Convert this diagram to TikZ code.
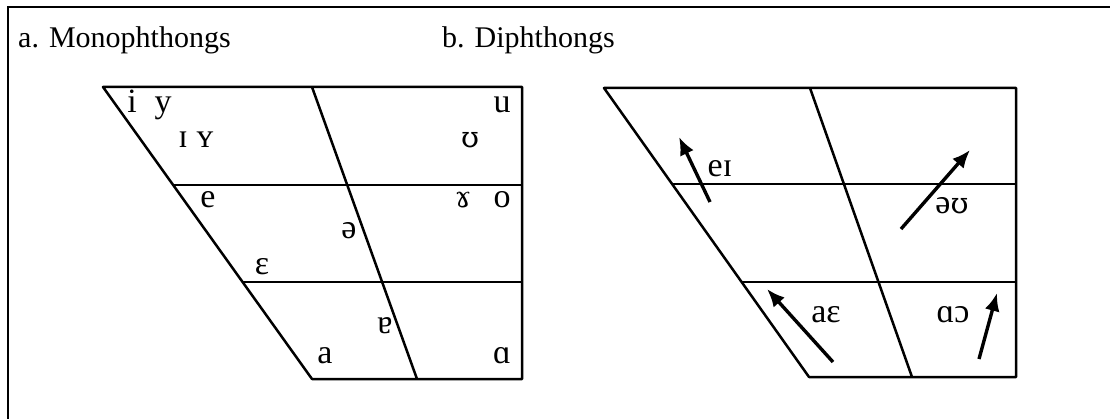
\documentclass[tikz,border=0pt]{standalone}
\usepackage{fontspec}
\setmainfont{Liberation Serif}
\newfontfamily\ipaglyph{DejaVu Serif}
\usetikzlibrary{arrows.meta,positioning,calc}
\tikzset{
  >=Latex,
  frameLine/.style={line width=2pt,line cap=rect},
  chartLine/.style={line width=2.5pt,line join=round},
  chartTitle/.style={font=\fontsize{30}{30}\selectfont,anchor=base west,inner sep=0pt},
  vowel/.style={font=\fontsize{34}{34}\selectfont,anchor=base,inner sep=0pt},
  glide/.style={-{Latex[length=18pt,width=15pt]},line width=3.4pt},
}
% horseshoe upsilon and rams-horns from a font that draws them plainly
\newcommand{\ipaU}{{\ipaglyph\fontsize{29}{29}\selectfont ʊ}}
\newcommand{\ipaRam}{{\ipaglyph\fontsize{29}{29}\selectfont ɤ}}

\begin{document}
\begin{tikzpicture}[x=1pt,y=-1pt]
\useasboundingbox (0,0) rectangle (1110,419);

% table cell edges that frame both charts
\coordinate (frameBL) at (8,419);
\coordinate (frameTL) at (8,7);
\coordinate (frameTR) at (1110,7);
\draw[frameLine] (frameBL) -- (frameTL) -- (frameTR);

\node[chartTitle] (titleA) at (18,48)  {a. Monophthongs};
\node[chartTitle] (titleB) at (442,48) {b. Diphthongs};

% a. monophthong quadrilateral
\coordinate (aTL) at (103,87);
\coordinate (aTM) at (312,87);
\coordinate (aTR) at (522,87);
\coordinate (aBL) at (312,379);
\coordinate (aBM) at (417,379);
\coordinate (aBR) at (522,379);
\draw[chartLine] (aTL) -- (aTR) -- (aBR) -- (aBL) -- cycle;
\draw[chartLine] (aTM) -- (aBM);
\draw[chartLine] ($(aTL)!0.336!(aBL)$) -- ($(aTR)!0.336!(aBR)$);
\draw[chartLine] ($(aTL)!0.668!(aBL)$) -- ($(aTR)!0.668!(aBR)$);

\node[vowel] (vi)    at (132,113) {i};
\node[vowel] (vy)    at (163,113) {y};
\node[vowel] (vsI)   at (183,148) {ɪ};
\node[vowel] (vsY)   at (205,148) {ʏ};
\node[vowel] (vu)    at (502,113) {u};
\node[vowel] (vhU)   at (470,148) {\ipaU};
\node[vowel] (ve)    at (208,208) {e};
\node[vowel] (vram)  at (463,208) {\ipaRam};
\node[vowel] (vo)    at (502,208) {o};
\node[vowel] (vschwa) at (349,239) {ə};
\node[vowel] (veps)  at (262,275) {ɛ};
\node[vowel] (vturnA) at (385,333) {ɐ};
\node[vowel] (va)    at (325,363) {a};
\node[vowel] (valpha) at (502,363) {ɑ};

% b. diphthong quadrilateral
\coordinate (bTL) at (604,88);
\coordinate (bTM) at (810,88);
\coordinate (bTR) at (1016,88);
\coordinate (bBL) at (809,377);
\coordinate (bBM) at (912,377);
\coordinate (bBR) at (1016,377);
\draw[chartLine] (bTL) -- (bTR) -- (bBR) -- (bBL) -- cycle;
\draw[chartLine] (bTM) -- (bBM);
\draw[chartLine] ($(bTL)!0.332!(bBL)$) -- ($(bTR)!0.332!(bBR)$);
\draw[chartLine] ($(bTL)!0.671!(bBL)$) -- ($(bTR)!0.671!(bBR)$);

\node[vowel] (dEI) at (720,177) {eɪ};
\node[vowel] (dOU) at (952,214) {ə\ipaU};
\node[vowel] (dAE) at (826,323) {aɛ};
\node[vowel] (dAO) at (953,323) {ɑɔ};

% glide directions
\coordinate (eiFrom) at (710,202);  \coordinate (eiTo) at (679,137);
\coordinate (ouFrom) at (901,229);  \coordinate (ouTo) at (970,150);
\coordinate (aeFrom) at (833,362);  \coordinate (aeTo) at (767,289);
\coordinate (aoFrom) at (979,359);  \coordinate (aoTo) at (997,293);
\draw[glide] (eiFrom) -- (eiTo);
\draw[glide] (ouFrom) -- (ouTo);
\draw[glide] (aeFrom) -- (aeTo);
\draw[glide] (aoFrom) -- (aoTo);

\end{tikzpicture}
\end{document}
